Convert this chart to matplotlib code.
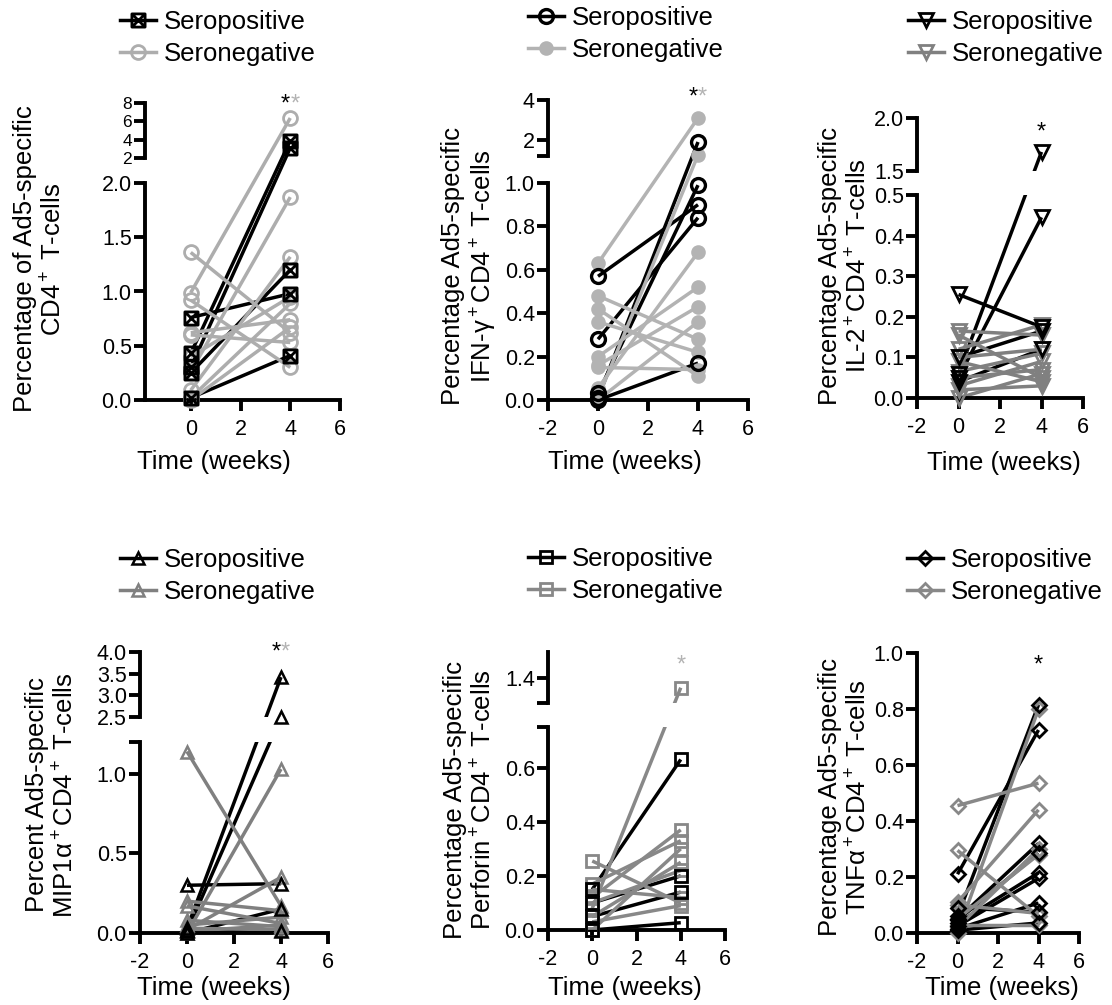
import numpy as np
import matplotlib
matplotlib.use("Agg")
import matplotlib.pyplot as plt
from matplotlib.lines import Line2D
from matplotlib.path import Path
from matplotlib.spines import Spine
from matplotlib.transforms import blended_transform_factory

plt.rcParams['font.family'] = ['Liberation Sans', 'DejaVu Sans']
plt.rcParams['mathtext.fontset'] = 'custom'
plt.rcParams['mathtext.rm'] = 'Liberation Sans'
plt.rcParams['mathtext.it'] = 'Liberation Sans:italic'

W, H = 1112, 1005
weeks = [0, 4]
groups = ["Seropositive", "Seronegative"]

# total CD4
cd4_pos_w0 = [0.76, 0.43, 0.30, 0.25, 0.02]
cd4_pos_w4 = [0.98, 3.9, 3.1, 1.20, 0.41]
cd4_neg_w0 = [1.36, 0.99, 0.92, 0.62, 0.60, 0.40, 0.26, 0.09, 0.02, 0.00]
cd4_neg_w4 = [0.62, 6.36, 0.30, 0.74, 0.53, 0.95, 1.87, 1.32, 0.89, 0.67]

# IFN-g
ifn_pos_w0 = [0.57, 0.28, 0.03, 0.01, 0.00]
ifn_pos_w4 = [0.90, 0.84, 0.99, 1.9, 0.17]
ifn_neg_w0 = [0.63, 0.48, 0.42, 0.36, 0.20, 0.16, 0.15, 0.055, 0.01, 0.00]
ifn_neg_w4 = [3.1, 0.28, 0.11, 0.22, 0.52, 0.43, 0.14, 0.68, 1.25, 0.36]

# IL-2
il2_pos_w0 = [0.255, 0.06, 0.05, 0.10, 0.04]
il2_pos_w4 = [0.175, 1.68, 0.445, 0.165, 0.12]
il2_neg_w0 = [0.165, 0.155, 0.12, 0.10, 0.09, 0.065, 0.05, 0.03, 0.02, 0.00]
il2_neg_w4 = [0.155, 0.05, 0.18, 0.12, 0.04, 0.11, 0.07, 0.09, 0.03, 0.06]

# MIP1a
mip_pos_w0 = [0.30, 0.03, 0.01, 0.00, 0.02]
mip_pos_w4 = [0.31, 3.42, 2.5, 0.15, 0.01]
mip_neg_w0 = [1.14, 0.20, 0.17, 0.08, 0.05, 0.03, 0.02, 0.01, 0.00]
mip_neg_w4 = [0.17, 0.14, 0.06, 0.04, 0.10, 0.02, 0.35, 0.05, 1.03]

# perforin
prf_pos_w0 = [0.15, 0.10, 0.05, 0.00]
prf_pos_w4 = [0.63, 0.20, 0.14, 0.027]
prf_neg_w0 = [0.255, 0.17, 0.15, 0.12, 0.10, 0.08, 0.05, 0.03, 0.00]
prf_neg_w4 = [0.10, 0.33, 0.12, 0.37, 0.22, 1.32, 0.25, 0.09, 0.30]

# TNFa
tnf_pos_w0 = [0.21, 0.09, 0.06, 0.05, 0.045, 0.035, 0.025, 0.015, 0.01]
tnf_pos_w4 = [0.725, 0.075, 0.815, 0.32, 0.285, 0.215, 0.195, 0.107, 0.036]
tnf_neg_w0 = [0.455, 0.295, 0.11, 0.10, 0.05, 0.02, 0.00, 0.03]
tnf_neg_w4 = [0.535, 0.06, 0.44, 0.07, 0.28, 0.30, 0.80, 0.03]

boxx = Path([(-1, -1), (1, -1), (1, 1), (-1, 1), (-1, -1), (-1, -1), (1, 1), (-1, 1), (1, -1)],
            [Path.MOVETO, Path.LINETO, Path.LINETO, Path.LINETO, Path.CLOSEPOLY,
             Path.MOVETO, Path.LINETO, Path.MOVETO, Path.LINETO])

LIGHT = '#adadad'
MID = '#808080'

panels = [
    dict(pos=(cd4_pos_w0, cd4_pos_w4), neg=(cd4_neg_w0, cd4_neg_w4),
         ylabel="Percentage of Ad5-specific\nCD4$^+$ T-cells",
         box=(145, 340, 103, 400), xmin=-1.84, xticks=[0, 2, 4, 6],
         brk=[0, 2.0, 2.0, 8], brk_px=[400, 183, 158, 103], mask=False,
         lo_ticks=[0, 0.5, 1.0, 1.5, 2.0], lo_labels=['0.0', '0.5', '1.0', '1.5', '2.0'],
         hi_ticks=[2, 4, 6, 8], hi_labels=['2', '4', '6', '8'], hi_size=12.5,
         pm=dict(marker=boxx, ms=9.5, mfc='none', mew=2.0),
         nm=dict(marker='o', ms=10, mfc='none', mew=2.0), ncol=LIGHT,
         leg=(120, 10), yl=(40, 259), xl=(214, 462), star=(97, True, True)),
    dict(pos=(ifn_pos_w0, ifn_pos_w4), neg=(ifn_neg_w0, ifn_neg_w4),
         ylabel="Percentage Ad5-specific\nIFN-\u03b3$^+$CD4$^+$ T-cells",
         box=(548, 748, 100, 400), xmin=-2, xticks=[-2, 0, 2, 4, 6],
         brk=[0, 1.0, 1.2, 4], brk_px=[400, 183, 156, 100], mask=False,
         lo_ticks=[0, 0.2, 0.4, 0.6, 0.8, 1.0], lo_labels=['0.0', '0.2', '0.4', '0.6', '0.8', '1.0'],
         hi_ticks=[1.2, 2, 4], hi_labels=['', '2', '4'], hi_size=15.5,
         pm=dict(marker='o', ms=10, mfc='none', mew=2.4),
         nm=dict(marker='o', ms=9, mfc='#b3b3b3', mew=1.5), ncol='#b3b3b3',
         leg=(528, 6), yl=(470, 266), xl=(625, 462), star=(90, True, True)),
    dict(pos=(il2_pos_w0, il2_pos_w4), neg=(il2_neg_w0, il2_neg_w4),
         ylabel="Percentage Ad5-specific\nIL-2$^+$CD4$^+$ T-cells",
         box=(917, 1083, 118, 398), xmin=-2, xticks=[-2, 0, 2, 4, 6],
         brk=[0, 0.5, 1.5, 2.0], brk_px=[398, 195, 171, 118], mask=True,
         lo_ticks=[0, 0.1, 0.2, 0.3, 0.4, 0.5], lo_labels=['0.0', '0.1', '0.2', '0.3', '0.4', '0.5'],
         hi_ticks=[1.5, 2.0], hi_labels=['1.5', '2.0'], hi_size=15.5,
         pm=dict(marker='v', ms=10, mfc='none', mew=2.0),
         nm=dict(marker='v', ms=10, mfc='none', mew=2.0), ncol=MID,
         leg=(908, 10), yl=(845, 266), xl=(1004, 463), star=(125, True, False)),
    dict(pos=(mip_pos_w0, mip_pos_w4), neg=(mip_neg_w0, mip_neg_w4),
         ylabel="Percent Ad5-specific\nMIP1\u03b1$^+$CD4$^+$ T-cells",
         box=(140, 328, 652, 933), xmin=-2, xticks=[-2, 0, 2, 4, 6],
         brk=[0, 1.2, 2.5, 4.0], brk_px=[933, 742, 717, 652], mask=True,
         lo_ticks=[0, 0.5, 1.0, 1.2], lo_labels=['0.0', '0.5', '1.0', ''],
         hi_ticks=[2.5, 3.0, 3.5, 4.0], hi_labels=['2.5', '3.0', '3.5', '4.0'], hi_size=15.5,
         pm=dict(marker='^', ms=8, mfc='none', mew=1.8),
         nm=dict(marker='^', ms=8, mfc='none', mew=1.8), ncol=MID,
         leg=(120, 548), yl=(52, 795), xl=(214, 988), star=(645, True, True)),
    dict(pos=(prf_pos_w0, prf_pos_w4), neg=(prf_neg_w0, prf_neg_w4),
         ylabel="Percentage Ad5-specific\nPerforin$^+$CD4$^+$ T-cells",
         box=(548, 725, 652, 930), xmin=-2, xticks=[-2, 0, 2, 4, 6],
         brk=[0, 0.75, 1.2, 1.6], brk_px=[930, 727, 703, 652], mask=True,
         lo_ticks=[0, 0.2, 0.4, 0.6, 0.75], lo_labels=['0.0', '0.2', '0.4', '0.6', ''],
         hi_ticks=[1.2, 1.4], hi_labels=['', '1.4'], hi_size=15.5,
         pm=dict(marker='s', ms=9, mfc='none', mew=2.0),
         nm=dict(marker='s', ms=9, mfc='none', mew=2.0), ncol='#888888',
         leg=(528, 547), yl=(470, 800), xl=(625, 988), star=(658, False, True)),
    dict(pos=(tnf_pos_w0, tnf_pos_w4), neg=(tnf_neg_w0, tnf_neg_w4),
         ylabel="Percentage Ad5-specific\nTNF\u03b1$^+$CD4$^+$ T-cells",
         box=(917, 1079, 653, 933), xmin=-2, xticks=[-2, 0, 2, 4, 6],
         brk=None, brk_px=[933, 653], lin_max=1.0, mask=False,
         lo_ticks=[0, 0.2, 0.4, 0.6, 0.8, 1.0], lo_labels=['0.0', '0.2', '0.4', '0.6', '0.8', '1.0'],
         hi_ticks=[], hi_labels=[], hi_size=15.5,
         pm=dict(marker='D', ms=7.5, mfc='none', mew=2.0),
         nm=dict(marker='D', ms=7.5, mfc='none', mew=2.0), ncol='#888888',
         leg=(907, 548), yl=(845, 797), xl=(1002, 988), star=(658, True, False)),
]


def piecewise(xp, fp):
    xp = np.asarray(xp, float)
    fp = np.asarray(fp, float)
    s0 = (fp[1] - fp[0]) / (xp[1] - xp[0])
    s1 = (fp[-1] - fp[-2]) / (xp[-1] - xp[-2])

    def f(v):
        v = np.asarray(v, float)
        out = np.interp(v, xp, fp)
        out = np.where(v < xp[0], fp[0] + (v - xp[0]) * s0, out)
        out = np.where(v > xp[-1], fp[-1] + (v - xp[-1]) * s1, out)
        return out
    return f


fig = plt.figure(figsize=(W / 100, H / 100), dpi=100)
LW = 2.5

for p in panels:
    left, right, top, bottom = p['box']
    ax = fig.add_axes([left / W, 1 - bottom / H, (right - left) / W, (bottom - top) / H])

    if p['brk'] is not None:
        vals = list(p['brk'])
        if vals[2] <= vals[1]:
            vals[2] = vals[1] + 1e-6   # break with no gap in values
        disp = [bottom - py for py in p['brk_px']]
        ax.set_yscale('function', functions=(piecewise(vals, disp), piecewise(disp, vals)))
        ax.set_ylim(0, vals[3])
        lo_max, hi_min, hi_max = vals[1], vals[2], vals[3]
    else:
        ax.set_ylim(0, p['lin_max'])
        lo_max = p['lin_max']

    ax.set_xlim(p['xmin'], 6)

    # lines
    pc = 'black'
    nc = p['ncol']
    ax.plot(weeks, np.array(p['pos']), color=pc, lw=LW, zorder=2, solid_capstyle='butt')
    ax.plot(weeks, np.array(p['neg']), color=nc, lw=LW, zorder=2.1, solid_capstyle='butt')
    if p['mask']:
        ax.axhspan(lo_max, hi_min, facecolor='white', edgecolor='none', zorder=2.4)
    ax.plot(weeks, np.array(p['neg']), ls='none', color=nc, mec=nc, zorder=3, clip_on=False, **p['nm'])
    ax.plot(weeks, np.array(p['pos']), ls='none', color=pc, mec=pc, zorder=3.1, clip_on=False, **p['pm'])

    # axes styling
    for s in ['top', 'right']:
        ax.spines[s].set_visible(False)
    for s in ['left', 'bottom']:
        ax.spines[s].set_linewidth(2.8)
    ax.spines['left'].set_bounds(0, lo_max)
    hi_ticks = []
    if p['brk'] is not None:
        up = Spine.linear_spine(ax, 'left')
        up.set_position(('outward', 0))
        up.set_bounds(hi_min, hi_max)
        up.set_linewidth(2.8)
        up.set_edgecolor('black')
        ax.spines['left_upper'] = up
        hi_ticks = [max(t, hi_min) for t in p['hi_ticks']]

    ax.set_yticks(list(p['lo_ticks']) + hi_ticks, list(p['lo_labels']) + list(p['hi_labels']))
    ax.set_xticks(p['xticks'], [str(t) for t in p['xticks']])
    ax.tick_params(axis='both', direction='out', length=8, width=2.8, labelsize=15.5, color='black')
    ax.tick_params(axis='y', pad=1.5)
    ax.tick_params(axis='x', pad=6)
    ax.minorticks_off()
    n_lo = len(p['lo_ticks'])
    for lab in ax.get_yticklabels()[n_lo:]:
        lab.set_fontsize(p['hi_size'])

    ax.set_ylabel(p['ylabel'], fontsize=18.5)
    ax.yaxis.label.set_va('center')
    ax.yaxis.set_label_coords(p['yl'][0] / W, 1 - p['yl'][1] / H, transform=fig.transFigure)
    ax.set_xlabel("Time (weeks)", fontsize=18.5)
    ax.xaxis.label.set_va('center')
    ax.xaxis.set_label_coords(p['xl'][0] / W, 1 - p['xl'][1] / H, transform=fig.transFigure)

    # significance stars
    sy, sblack, sgray = p['star']
    tr = blended_transform_factory(ax.transData, fig.transFigure)
    if sblack and sgray:
        ax.text(4, 1 - (sy + 8) / H, '*', color='black', fontsize=17, ha='right', va='center',
                transform=tr, clip_on=False)
        ax.text(4, 1 - (sy + 8) / H, '*', color='#b3b3b3', fontsize=17, ha='left', va='center',
                transform=tr, clip_on=False)
    else:
        ax.text(4, 1 - (sy + 8) / H, '*', color='black' if sblack else '#b3b3b3', fontsize=17,
                ha='center', va='center', transform=tr, clip_on=False)

    handles = [Line2D([], [], color=pc, mec=pc, lw=LW, **p['pm']),
               Line2D([], [], color=nc, mec=nc, lw=LW, **p['nm'])]
    ax.legend(handles, groups, loc='upper left', frameon=False, fontsize=18.5,
              bbox_to_anchor=(p['leg'][0] / W, 1 - p['leg'][1] / H), bbox_transform=fig.transFigure,
              handlelength=1.4, handletextpad=0.3, labelspacing=0.3, borderpad=0, borderaxespad=0)

fig.savefig("out.png", dpi=100)
